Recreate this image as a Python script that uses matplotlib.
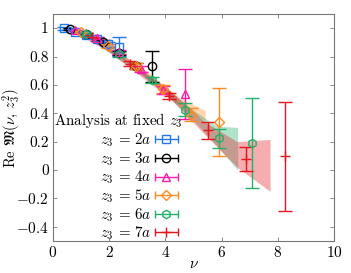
import numpy as np
import matplotlib
matplotlib.use("Agg")
import matplotlib.pyplot as plt
from matplotlib.legend_handler import HandlerErrorbar

plt.rcParams['font.family'] = ['cmr10', 'DejaVu Serif']
plt.rcParams['mathtext.fontset'] = 'cm'
plt.rcParams['axes.formatter.use_mathtext'] = True

# ---- data ----
labels = [r"$z_3\,=\,2a$", r"$z_3\,=\,3a$", r"$z_3\,=\,4a$",
          r"$z_3\,=\,5a$", r"$z_3\,=\,6a$", r"$z_3\,=\,7a$"]
colors = ["#1f78f0", "#000000", "#ff1aa8", "#ff8a1f", "#22b06a", "#e8161c"]
markers = ["s", "o", "^", "D", "h", "+"]

nu_2a = [0.39, 0.79, 1.18, 1.57, 1.96, 2.36]
y_2a = [1.0, 0.975, 0.955, 0.925, 0.885, 0.87]
e_2a = [0.01, 0.01, 0.012, 0.015, 0.02, 0.065]

nu_3a = [0.59, 1.18, 1.77, 2.36, 2.95, 3.53]
y_3a = [0.995, 0.96, 0.905, 0.825, 0.735, 0.73]
e_3a = [0.005, 0.008, 0.012, 0.015, 0.02, 0.11]

nu_4a = [0.785, 1.57, 2.36, 3.14, 3.93, 4.71]
y_4a = [0.985, 0.93, 0.83, 0.71, 0.565, 0.535]
e_4a = [0.005, 0.01, 0.015, 0.02, 0.03, 0.175]

nu_5a = [0.98, 1.96, 2.95, 3.93, 4.91, 5.89]
y_5a = [0.975, 0.875, 0.735, 0.57, 0.39, 0.34]
e_5a = [0.008, 0.012, 0.02, 0.03, 0.047, 0.24]

nu_6a = [1.18, 2.36, 3.53, 4.71, 5.89, 7.07]
y_6a = [0.96, 0.815, 0.635, 0.425, 0.225, 0.19]
e_6a = [0.008, 0.015, 0.02, 0.045, 0.066, 0.315]

nu_7a = [1.37, 2.75, 4.12, 5.50, 6.87, 8.25]
y_7a = [0.94, 0.75, 0.522, 0.282, 0.075, 0.097]
e_7a = [0.01, 0.015, 0.02, 0.06, 0.085, 0.385]

# fit bands: nodes, lower, upper
band_nu_2a = [0.3, 1.2, 2.2]
band_lo_2a = [0.99, 0.945, 0.85]
band_hi_2a = [1.01, 0.965, 0.875]

band_nu_3a = [0.5, 2.0, 3.3]
band_lo_3a = [0.985, 0.87, 0.66]
band_hi_3a = [1.005, 0.89, 0.69]

band_nu_4a = [0.7, 2.5, 4.4]
band_lo_4a = [0.975, 0.78, 0.47]
band_hi_4a = [0.995, 0.81, 0.52]

band_nu_5a = [0.9, 3.0, 4.5, 5.41]
band_lo_5a = [0.965, 0.72, 0.45, 0.35]
band_hi_5a = [0.985, 0.75, 0.51, 0.42]

band_nu_6a = [1.1, 3.5, 5.0, 5.83, 6.57]
band_lo_6a = [0.955, 0.62, 0.35, 0.17, 0.0]
band_hi_6a = [0.975, 0.66, 0.42, 0.31, 0.30]

band_nu_7a = [1.3, 4.16, 5.4, 6.55, 7.72]
band_lo_7a = [0.935, 0.505, 0.25, 0.02, -0.15]
band_hi_7a = [0.955, 0.56, 0.34, 0.20, 0.216]

series = [(nu_2a, y_2a, e_2a), (nu_3a, y_3a, e_3a), (nu_4a, y_4a, e_4a),
          (nu_5a, y_5a, e_5a), (nu_6a, y_6a, e_6a), (nu_7a, y_7a, e_7a)]
bands = [(band_nu_2a, band_lo_2a, band_hi_2a), (band_nu_3a, band_lo_3a, band_hi_3a),
         (band_nu_4a, band_lo_4a, band_hi_4a), (band_nu_5a, band_lo_5a, band_hi_5a),
         (band_nu_6a, band_lo_6a, band_hi_6a), (band_nu_7a, band_lo_7a, band_hi_7a)]

fig = plt.figure(figsize=(3.51, 2.73), dpi=100)
ax = fig.add_axes([0.151, 0.117, 0.801, 0.832])

for (bn, bl, bh), c in zip(bands, colors):
    if c == "#000000":
        ax.fill_between(bn, bl, bh, color="#808080", alpha=0.3, lw=0, zorder=1)
    else:
        ax.fill_between(bn, bl, bh, color=c, alpha=0.35, lw=0, zorder=1)

handles = []
for (x, y, e), c, m, lab in zip(series, colors, markers, labels):
    ms = 7 if m == "+" else (5 if m == "D" else 6)
    ax.errorbar(x, y, yerr=e, fmt=m, color=c, mfc='none', mec=c, ms=ms,
                mew=1.0, elinewidth=1.0, capsize=5, capthick=1.0, zorder=3)
    h = ax.errorbar([np.nan], [np.nan], xerr=[1.0], fmt=m, color=c, mfc='none',
                    mec=c, ms=ms, mew=1.0, elinewidth=1.0, capsize=3, capthick=1.0)
    handles.append(h)

ax.set_xlim(0, 10)
ax.set_ylim(-0.5, 1.1)
ax.set_xticks([0, 2, 4, 6, 8, 10])
ax.set_yticks([-0.4, -0.2, 0, 0.2, 0.4, 0.6, 0.8, 1])
ax.set_yticklabels(["$-0.4$", "$-0.2$", "0", "0.2", "0.4", "0.6", "0.8", "1"])
ax.tick_params(direction='in', top=True, right=True, length=3, width=0.6,
               color='#777777', labelsize=11, pad=3)
for s in ax.spines.values():
    s.set_color('#777777')
    s.set_linewidth(0.8)

ax.set_xlabel(r"$\nu$", fontsize=11, labelpad=-2)
ax.set_ylabel(r"Re $\mathfrak{M}(\nu,\, z_3^2)$", fontsize=10.5)
ax.yaxis.set_label_coords(-0.108, 0.498)

ax.text(0.005, 0.529, r"Analysis at fixed $z_3$", transform=ax.transAxes,
        fontsize=10.8, ha='left', va='center', zorder=5)
leg = ax.legend(handles, labels, loc='upper right', bbox_to_anchor=(0.449, 0.488),
                frameon=False, markerfirst=False, fontsize=10.8, handlelength=1.5,
                handletextpad=0.25, labelspacing=0.07, borderpad=0.1, borderaxespad=0,
                numpoints=1,
                handler_map={type(handles[0]): HandlerErrorbar(xerr_size=0.75)})

fig.savefig("out.png", dpi=100)
